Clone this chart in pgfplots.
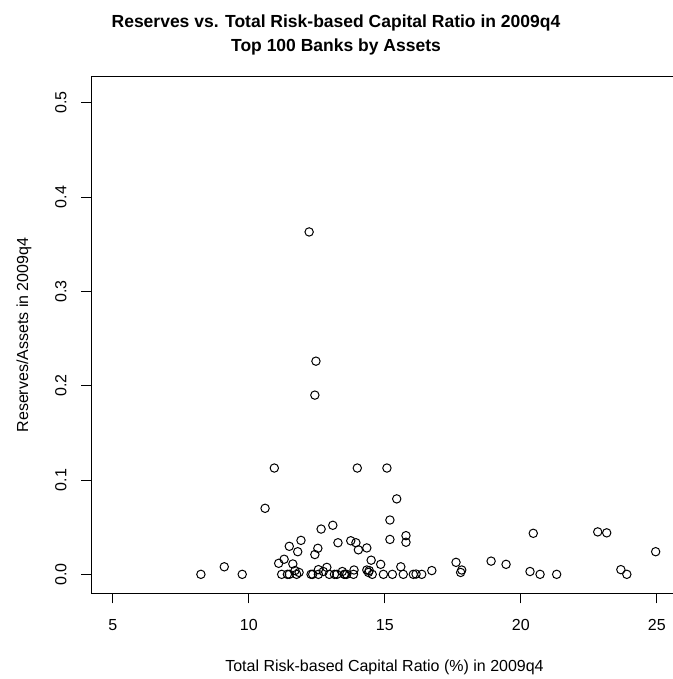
\documentclass[border=0pt]{standalone}
\usepackage{pgfplots}
\pgfplotsset{compat=1.18}
\usepackage{fontspec}
\setmainfont{Liberation Sans}
\begin{document}
\begin{tikzpicture}[x=1bp,y=1bp]
\useasboundingbox (0,0) rectangle (673,679);
\begin{axis}[
  at={(91bp,85.7bp)}, anchor=south west,
  scale only axis, width=587.5bp, height=516.6bp,
  xmin=4.2, xmax=25.8, ymin=-0.0201, ymax=0.5276,
  xtick={5,10,15,20,25}, xticklabels={5,10,15,20,25},
  ytick={0,0.1,0.2,0.3,0.4,0.5}, yticklabels={0.0,0.1,0.2,0.3,0.4,0.5},
  xtick pos=left, ytick pos=left,
  tick align=outside, major tick length=10bp,
  tick style={black, line width=1bp},
  axis line style={black, line width=1bp},
  ticklabel style={font=\fontsize{16bp}{19bp}\selectfont, inner sep=0pt},
  xticklabel style={anchor=north},
  yticklabel style={rotate=90, anchor=south},
  xticklabel shift=15.7bp,
  yticklabel shift=14.3bp,
]
\addplot[only marks, mark=o, mark size=4.2bp, mark options={line width=1bp, black}] table {
x y
8.24 0
9.10 0.008
9.76 0
10.60 0.070
10.94 0.1127
11.10 0.0117
11.21 0
11.30 0.016
11.42 0
11.49 0.0297
11.49 0
11.62 0.011
11.70 0.004
11.76 0
11.80 0.024
11.85 0.002
11.92 0.036
12.22 0.363
12.29 0
12.35 0
12.43 0.021
12.43 0.190
12.47 0.226
12.54 0.0276
12.56 0.005
12.56 0
12.66 0.048
12.74 0.003
12.87 0.0074
12.96 0
13.09 0.052
13.15 0
13.24 0
13.28 0.0335
13.44 0.003
13.51 0
13.54 0
13.60 0
13.75 0.0356
13.85 0
13.87 0.0046
13.94 0.0335
13.99 0.1127
14.03 0.026
14.34 0.028
14.34 0.0046
14.40 0.002
14.43 0.004
14.50 0.015
14.54 0
14.85 0.0106
14.95 0
15.08 0.1127
15.19 0.0576
15.19 0.037
15.28 0
15.44 0.080
15.59 0.008
15.68 0
15.78 0.041
15.78 0.034
16.05 0
16.15 0.0003
16.36 0
16.73 0.004
17.62 0.0127
17.79 0.002
17.83 0.0046
18.91 0.014
19.46 0.0106
20.34 0.003
20.46 0.0435
20.71 0
21.32 0
22.83 0.045
23.16 0.044
23.68 0.005
23.90 0
24.96 0.024
};
\end{axis}
\node[anchor=base, font=\fontsize{17.5bp}{21bp}\selectfont\bfseries, inner sep=0pt] at (336,651) {Reserves vs. Total Risk-based Capital Ratio in 2009q4};
\node[anchor=base, font=\fontsize{17.5bp}{21bp}\selectfont\bfseries, inner sep=0pt] at (336,627) {Top 100 Banks by Assets};
\node[anchor=base, font=\fontsize{16bp}{19bp}\selectfont, inner sep=0pt] at (384.5,7.5) {Total Risk-based Capital Ratio (\%) in 2009q4};
\node[anchor=base, rotate=90, font=\fontsize{16bp}{19bp}\selectfont, inner sep=0pt] at (28,344) {Reserves/Assets in 2009q4};
\end{tikzpicture}
\end{document}
